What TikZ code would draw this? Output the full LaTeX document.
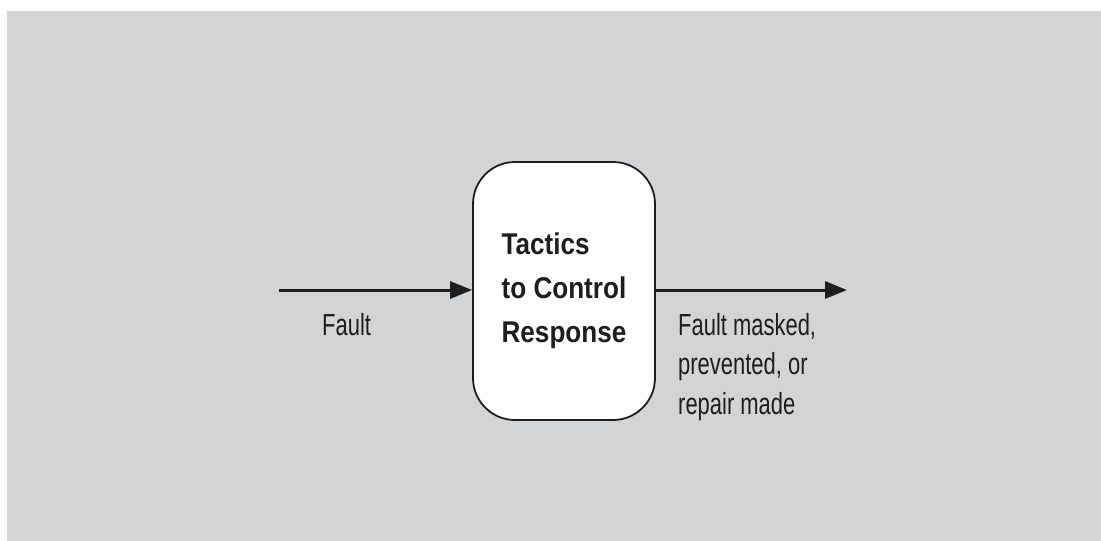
\documentclass[tikz,border=0pt]{standalone}
\usepackage{fontspec}
\usetikzlibrary{arrows.meta}
\newfontfamily\lblfont[FakeStretch=0.72]{Liberation Sans}
\newfontfamily\boxfont[FakeStretch=0.87]{Liberation Sans}
\definecolor{bggray}{RGB}{211,212,214}
\definecolor{ink}{RGB}{30,30,30}
\tikzset{
  flow/.style={line width=3pt, draw=ink, -{Triangle[length=22pt,width=17pt]}},
  tacticbox/.style={draw=ink, line width=1.8pt, fill=white, rounded corners=42pt,
    minimum width=182pt, minimum height=258pt, inner sep=0pt, align=left, text=ink,
    font=\boxfont\bfseries\fontsize{30}{44}\selectfont},
  lbl/.style={inner sep=0pt, align=left, text=ink,
    font=\lblfont\fontsize{30.5}{39.5}\selectfont}
}
\begin{document}
\begin{tikzpicture}[x=1pt,y=-1pt]
\useasboundingbox (0,0) rectangle (1101,541);
\fill[bggray] (7,11) rectangle (1101,541);
\node[tacticbox] (box) at (564,291) {Tactics\\to Control\\Response};
\coordinate (in) at (279,290);
\coordinate (out) at (847,290);
\draw[flow] (in) -- (in -| box.west);
\draw[flow] (out -| box.east) -- (out);
\node[lbl, anchor=north west] (fault) at (322,313) {Fault};
\node[lbl, anchor=north west] (result) at (678,313) {Fault masked,\\prevented, or\\repair made};
\end{tikzpicture}
\end{document}
